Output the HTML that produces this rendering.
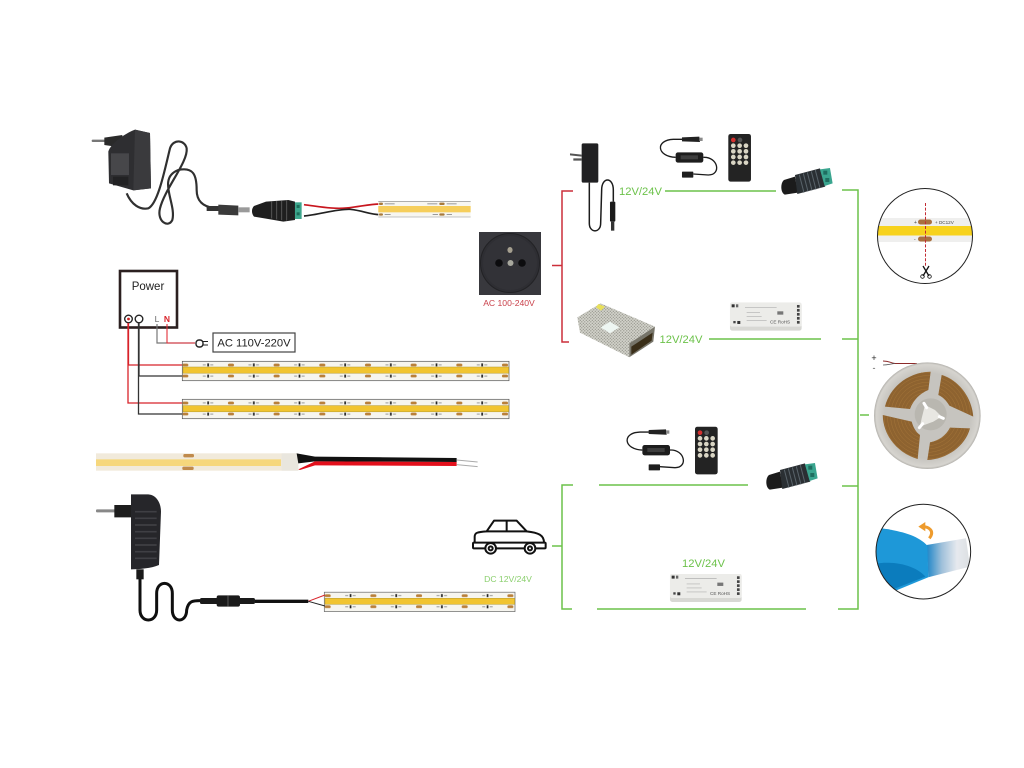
<!DOCTYPE html>
<html lang="en">
<head>
<meta charset="utf-8">
<title>LED strip wiring diagram</title>
<style>
html,body{margin:0;padding:0;background:#fff;width:1024px;height:768px;overflow:hidden}
svg{display:block;filter:blur(.35px)}
text{font-family:"Liberation Sans",sans-serif}
</style>
</head>
<body>
<svg width="1024" height="768" viewBox="0 0 1024 768" xmlns="http://www.w3.org/2000/svg">
<defs>
  <pattern id="tile" patternUnits="userSpaceOnUse" width="45.67" height="20">
    <rect x="2" y="2.6" width="6" height="2.8" rx="1.3" fill="#b9803a"/>
    <rect x="2" y="13.6" width="6" height="2.8" rx="1.3" fill="#b9803a"/>
    <rect x="27" y="2.4" width="1.7" height="3" fill="#222"/>
    <rect x="27" y="13.6" width="1.7" height="3" fill="#222"/>
    <rect x="22.5" y="3.4" width="3" height="1" fill="#999"/>
    <rect x="30" y="3.4" width="3" height="1" fill="#999"/>
    <rect x="22.5" y="14.6" width="3" height="1" fill="#999"/>
    <rect x="30" y="14.6" width="3" height="1" fill="#999"/>
  </pattern>
  <pattern id="p1" href="#tile" patternTransform="translate(180.3 361)"/>
  <pattern id="p2" href="#tile" patternTransform="translate(180.3 399)"/>
  <pattern id="p3" href="#tile" patternTransform="translate(322.7 591.7)"/>
  <pattern id="mesh" patternUnits="userSpaceOnUse" width="9" height="9">
    <rect width="9" height="9" fill="#d2d2ca"/>
    <circle cx="2.5" cy="2.5" r="1.8" fill="#85857c"/>
    <circle cx="7" cy="7" r="1.8" fill="#8c8c84"/>
  </pattern>
  <linearGradient id="tape" x1="0" x2="1" y1="0" y2="0">
    <stop offset="0" stop-color="#1e86c8"/>
    <stop offset=".35" stop-color="#9fc0da"/>
    <stop offset=".7" stop-color="#e6e9ee"/>
    <stop offset="1" stop-color="#dcdfe2"/>
  </linearGradient>
  <radialGradient id="reelG" cx=".5" cy=".5" r=".5">
    <stop offset=".8" stop-color="#c6c4bf"/>
    <stop offset=".96" stop-color="#d6d4cf"/>
    <stop offset="1" stop-color="#b3b1ac"/>
  </radialGradient>
  <clipPath id="c3"><circle cx="190" cy="1115" r="142"/></clipPath>
  <clipPath id="c1"><circle cx="925" cy="236" r="47.5"/></clipPath>
  <clipPath id="sect">
    <path d="M45,155C60,95 115,52 182,50L175,105C150,115 130,135 120,162Z"/>
    <path d="M215,60C265,75 305,125 310,185L238,152C230,138 218,125 205,120Z"/>
    <path d="M38,180L125,200C130,218 138,232 150,240L143,312C85,295 40,245 38,180Z"/>
    <path d="M300,220C285,275 230,312 172,315L180,262C205,258 228,242 240,218Z"/>
  </clipPath>

  <g id="ctrl">
    <path d="M617,112C560,110 555,60 610,58L640,58" fill="none" stroke="#1c1c1c" stroke-width="4"/>
    <path d="M700,112C745,110 755,165 715,165L670,162" fill="none" stroke="#1c1c1c" stroke-width="4"/>
    <rect x="617" y="97" width="83" height="31" rx="7" fill="#1d1d1d"/>
    <rect x="632" y="106" width="52" height="12" fill="#3e3e3e"/>
    <path d="M636,52L688,50L690,66L636,64Z" fill="#222"/>
    <rect x="688" y="53" width="10" height="10" fill="#8a8a8a"/>
    <rect x="636" y="155" width="34" height="18" rx="2" fill="#1e1e1e"/>
    <rect x="775" y="42" width="68" height="143" rx="7" fill="#232323"/>
    <circle cx="790" cy="60" r="7" fill="#d5302f"/>
    <circle cx="810" cy="60" r="7" fill="#555"/>
    <g fill="#d9d5c4">
      <circle cx="790" cy="77" r="7"/><circle cx="809" cy="77" r="7"/><circle cx="828" cy="77" r="7"/>
      <circle cx="790" cy="94" r="7"/><circle cx="809" cy="94" r="7"/><circle cx="828" cy="94" r="7"/>
      <circle cx="790" cy="111" r="7"/><circle cx="809" cy="111" r="7"/><circle cx="828" cy="111" r="7"/>
      <circle cx="790" cy="128" r="7"/><circle cx="809" cy="128" r="7"/><circle cx="828" cy="128" r="7"/>
    </g>
  </g>

  <g id="dcjack">
    <path d="M942,180L975,170L984,218L945,224C932,220 930,190 942,180Z" fill="#1b1b1b"/>
    <path d="M975,165L1050,145L1066,200L982,222Z" fill="#2a2f33"/>
    <g stroke="#59636a" stroke-width="3">
      <path d="M988,164L1002,218M1000,160L1014,214M1012,157L1026,211M1024,154L1038,208M1036,150L1050,204"/>
    </g>
    <path d="M1050,148L1080,144L1088,190L1064,198Z" fill="#3aa58f"/>
    <rect x="1060" y="152" width="12" height="12" fill="#1f6e60"/>
    <rect x="1066" y="174" width="12" height="12" fill="#1f6e60"/>
  </g>

  <g id="wbox">
    <rect x="780" y="548" width="215" height="84" rx="7" fill="#d8d8d4"/>
    <rect x="780" y="548" width="215" height="72" rx="6" fill="#ecece9"/>
    <rect x="785" y="553" width="9" height="9" fill="#333"/>
    <rect x="798" y="553" width="7" height="9" fill="#666"/>
    <rect x="790" y="603" width="7" height="7" fill="#444"/>
    <rect x="802" y="603" width="9" height="9" fill="#333"/>
    <g fill="#444">
      <rect x="981" y="555" width="8" height="8"/><rect x="981" y="567" width="8" height="8"/>
      <rect x="981" y="579" width="8" height="8"/><rect x="981" y="591" width="8" height="8"/><rect x="981" y="603" width="8" height="8"/>
    </g>
    <g stroke="#b0b0b0" stroke-width="2">
      <path d="M825,562H920M830,578H870M830,590H875M830,602H890"/>
    </g>
    <rect x="922" y="574" width="18" height="10" fill="#777"/>
    <text x="900" y="611" font-size="14" fill="#555">CE RoHS</text>
  </g>
</defs>

<rect width="1024" height="768" fill="#fff"/>

<!-- top-left adapter -->
<g transform="translate(85 125) scale(.3333)">
  <path d="M125,205C140,240 165,255 190,250C220,235 240,130 255,70C265,40 300,45 305,70C310,110 240,190 225,250C215,290 250,310 262,285C275,235 215,160 280,135C325,125 335,150 335,195C335,225 350,245 390,250" fill="none" stroke="#303030" stroke-width="6.5"/>
  <rect x="20" y="44" width="42" height="7" rx="3" fill="#777"/>
  <path d="M58,38L112,30L112,68L58,60Z" fill="#2a2a2a"/>
  <path d="M150,14L195,24L198,190L145,196L72,175L70,80C75,60 110,30 150,14Z" fill="#2e2e31"/>
  <path d="M150,14L195,24L198,190L145,196Z" fill="#3a3a3d"/>
  <rect x="78" y="85" width="54" height="65" fill="#47474a"/>
  <rect x="84" y="155" width="46" height="26" fill="#222224"/>
</g>
<g transform="translate(80 120) scale(.3333)">
  <rect x="380" y="258" width="36" height="15" fill="#333"/>
  <path d="M415,254L475,257V286L415,284Z" fill="#3a3a3a"/>
  <rect x="475" y="262" width="34" height="15" fill="#9a9a9a"/>
  <path d="M522,258L558,245L625,240L645,245L645,300L610,305L558,296L522,290C514,280 514,266 522,258Z" fill="#1f1f1f"/>
  <g stroke="#555" stroke-width="3"><path d="M575,245V295M590,243V298M605,241V300M620,240V302"/></g>
  <rect x="645" y="247" width="20" height="50" fill="#3da58c"/>
  <rect x="650" y="255" width="9" height="9" fill="#1d6e5b"/>
  <rect x="650" y="277" width="9" height="9" fill="#1d6e5b"/>
  <path d="M672,254C720,260 760,268 800,264C840,260 870,252 900,252" fill="none" stroke="#c8161e" stroke-width="5"/>
  <path d="M672,288C720,284 770,266 810,268C850,272 870,284 900,284" fill="none" stroke="#222" stroke-width="5"/>
  <rect x="895" y="243" width="277" height="49" fill="#f7f6f1"/>
  <rect x="895" y="243" width="277" height="2" fill="#888"/>
  <rect x="895" y="290" width="277" height="2" fill="#aaa"/>
  <rect x="895" y="258" width="277" height="19" fill="#f6ce5b"/>
  <g fill="#a87a3a">
    <rect x="897" y="248" width="12" height="7" rx="3"/><rect x="1078" y="248" width="16" height="7" rx="3"/>
    <rect x="897" y="280" width="12" height="7" rx="3"/><rect x="1078" y="280" width="16" height="7" rx="3"/>
  </g>
  <g fill="#999">
    <rect x="914" y="250" width="30" height="3"/><rect x="1042" y="250" width="30" height="3"/><rect x="1100" y="250" width="30" height="3"/>
    <rect x="914" y="282" width="18" height="3"/><rect x="1058" y="282" width="16" height="3"/><rect x="1100" y="282" width="16" height="3"/>
  </g>
</g>

<!-- power box -->
<rect x="120" y="271" width="57" height="56.5" fill="#fff" stroke="#2b2020" stroke-width="2.6"/>
<text x="148" y="290" font-size="11.5" text-anchor="middle" fill="#222">Power</text>
<circle cx="128.5" cy="319" r="3.8" fill="#fff" stroke="#222" stroke-width="1.4"/>
<circle cx="128.5" cy="319" r="1.4" fill="#c22"/>
<circle cx="139" cy="319" r="3.8" fill="#fff" stroke="#222" stroke-width="1.4"/>
<text x="157" y="322" font-size="8.5" text-anchor="middle" fill="#666">L</text>
<text x="167" y="322" font-size="8.5" font-weight="bold" text-anchor="middle" fill="#d8232a">N</text>
<path d="M157,324V343H195" fill="none" stroke="#777" stroke-width="1.2"/>
<path d="M167,324V343H195" fill="none" stroke="#e2303a" stroke-width="1.1"/>
<rect x="196" y="340" width="7" height="7" rx="3" fill="#fff" stroke="#222" stroke-width="1.4"/>
<path d="M203,341.5H208M203,345H208" stroke="#222" stroke-width="1"/>
<rect x="213" y="333" width="82" height="19" fill="#fff" stroke="#444" stroke-width="1.2"/>
<text x="254" y="346.6" font-size="11.2" text-anchor="middle" fill="#222">AC 110V-220V</text>
<path d="M128.5,323V365H182" fill="none" stroke="#d8232a" stroke-width="1.3"/>
<path d="M128,323V403H182" fill="none" stroke="#d8232a" stroke-width="1.3"/>
<path d="M139,323V376H182" fill="none" stroke="#333" stroke-width="1.3"/>
<path d="M138.5,323V414H182" fill="none" stroke="#333" stroke-width="1.3"/>

<!-- strips -->
<g>
  <rect x="182.3" y="361.3" width="326.7" height="19.4" fill="#f6f5ef" stroke="#555" stroke-width=".7"/>
  <rect x="183" y="367" width="325.6" height="6.2" fill="#f1c430" stroke="#b3992c" stroke-width=".5"/>
  <rect x="182.6" y="361.6" width="326" height="18.8" fill="url(#p1)"/>
  <rect x="182.3" y="399.3" width="326.7" height="19.4" fill="#f6f5ef" stroke="#555" stroke-width=".7"/>
  <rect x="183" y="405.6" width="325.6" height="6.2" fill="#f1c430" stroke="#b3992c" stroke-width=".5"/>
  <rect x="182.6" y="399.6" width="326" height="18.8" fill="url(#p2)"/>
  <rect x="324.3" y="592.2" width="190.7" height="19.4" fill="#f6f5ef" stroke="#666" stroke-width=".7"/>
  <rect x="325" y="598.3" width="189.6" height="6" fill="#f1c430" stroke="#b3992c" stroke-width=".5"/>
  <rect x="324.6" y="592.5" width="190" height="18.8" fill="url(#p3)"/>
</g>

<!-- silicone strip + wires -->
<g transform="translate(85 440) scale(.3333)">
  <rect x="33" y="40" width="607" height="52" fill="#f1eadb"/>
  <rect x="33" y="58" width="555" height="20" fill="#f6d77c"/>
  <rect x="590" y="40" width="50" height="52" fill="#e9e6de"/>
  <rect x="295" y="42" width="32" height="10" rx="4" fill="#c08a4c"/>
  <rect x="292" y="80" width="34" height="10" rx="4" fill="#c08a4c"/>
  <path d="M635,40L690,50L1115,54V66L690,64L640,70Z" fill="#111"/>
  <path d="M640,88L690,64L1115,66V78L690,76L645,90Z" fill="#e3101c"/>
  <path d="M1115,60L1178,66M1115,74L1178,80" stroke="#aaa" stroke-width="3"/>
</g>

<!-- bottom-left adapter -->
<g transform="translate(85 440) scale(.3333)">
  <path d="M165,390V510C165,550 215,550 215,510V460C215,420 262,420 262,460V510C262,550 305,550 305,510C310,482 325,482 345,482" fill="none" stroke="#0f0f0f" stroke-width="9"/>
  <rect x="33" y="208" width="58" height="9" rx="3" fill="#888"/>
  <path d="M88,195H138V232H88Z" fill="#1d1d1d"/>
  <path d="M138,163H190C215,165 228,190 228,215L222,375C200,385 160,388 138,388Z" fill="#26262a"/>
  <g stroke="#3f3f44" stroke-width="5"><path d="M150,215H215M150,235H215M150,255H215M150,275H215M150,295H215M150,315H215M150,335H215M150,355H215"/></g>
  <rect x="154" y="388" width="22" height="30" fill="#1a1a1a"/>
  <rect x="345" y="474" width="165" height="18" rx="5" fill="#1a1a1a"/>
  <rect x="395" y="466" width="70" height="34" rx="6" fill="#1a1a1a"/>
  <rect x="428" y="466" width="2" height="34" fill="#777"/>
  <rect x="510" y="479" width="160" height="10" fill="#111"/>
  <path d="M670,484L720,465" stroke="#d8232a" stroke-width="3"/>
  <path d="M670,484L720,498" stroke="#222" stroke-width="3"/>
</g>

<!-- socket -->
<rect x="479" y="232" width="62" height="63" fill="#38383d"/>
<circle cx="510" cy="263" r="29.5" fill="#2e2e33" stroke="#222225" stroke-width="1"/>
<circle cx="510" cy="263" r="27" fill="#323237"/>
<ellipse cx="510" cy="250" rx="2.6" ry="3" fill="#a59f8f"/>
<ellipse cx="510.5" cy="263" rx="3" ry="3" fill="#a8a89e"/>
<circle cx="499" cy="263" r="3.8" fill="#0c0c0e"/>
<circle cx="522" cy="263" r="3.8" fill="#0c0c0e"/>
<text x="509" y="306" font-size="8.6" text-anchor="middle" fill="#c9404a">AC 100-240V</text>

<!-- red bracket -->
<path d="M573,191H562V342H569M552,265.5H562" fill="none" stroke="#cc2f3a" stroke-width="1.5"/>

<!-- US adapter -->
<g transform="translate(470 120) scale(.3333)">
  <path d="M358,188L358,310C358,340 392,340 392,310L395,210C395,170 430,170 430,210V245" fill="none" stroke="#1c1c1c" stroke-width="4.5"/>
  <path d="M300,100L335,104V110L300,106ZM310,115L335,115V122L310,122Z" fill="#555"/>
  <rect x="335" y="70" width="50" height="118" rx="5" fill="#202022"/>
  <rect x="420" y="245" width="16" height="60" rx="3" fill="#1a1a1a"/>
  <rect x="423" y="305" width="10" height="27" fill="#333"/>
</g>

<!-- controllers -->
<use href="#ctrl" transform="translate(470 120) scale(.3333)"/>
<use href="#ctrl" transform="translate(436.7 412.7) scale(.3333)"/>
<use href="#dcjack" transform="translate(470 120) scale(.3333)"/>
<use href="#dcjack" transform="translate(455 415) scale(.3333)"/>
<use href="#wbox" transform="translate(470 120) scale(.3333)"/>
<use href="#wbox" transform="translate(410 391.3) scale(.3333)"/>

<!-- power supply -->
<g transform="translate(470 120) scale(.3333)">
  <path d="M322,592L392,550L555,620L478,670Z" fill="url(#mesh)"/>
  <path d="M322,592L478,670V712L330,638Z" fill="url(#mesh)"/>
  <path d="M478,670L555,620L550,665L478,712Z" fill="#77756a"/>
  <path d="M484,680L548,638L545,662L484,704Z" fill="#3a2e18"/>
  <path d="M385,552L405,560L393,572L378,562Z" fill="#e8e05a"/>
  <path d="M392,622L420,605L448,622L420,640Z" fill="#eef6f2"/>
</g>

<!-- green wiring -->
<g fill="none" stroke="#6cc24a" stroke-width="1.5">
  <path d="M665,191H776"/>
  <path d="M842,190H858V609H838"/>
  <path d="M709,339H821"/>
  <path d="M842,339H858"/>
  <path d="M842,486H858"/>
  <path d="M860,415H869"/>
  <path d="M573,485H562V609H572"/>
  <path d="M552,546H562"/>
  <path d="M599,485H748"/>
  <path d="M597,609H806"/>
</g>
<g fill="#6cc24a" font-size="11.2" text-anchor="middle">
  <text x="640.5" y="195">12V/24V</text>
  <text x="681" y="343">12V/24V</text>
  <text x="703.5" y="567">12V/24V</text>
</g>
<text x="508" y="582" font-size="8.6" text-anchor="middle" fill="#8bcf6e">DC 12V/24V</text>

<!-- car -->
<g transform="translate(470 420) scale(.3333)" fill="none" stroke="#111" stroke-width="6" stroke-linejoin="round">
  <path d="M14,368V350C14,338 22,336 50,334L72,302H140L170,334C205,338 222,345 222,368"/>
  <path d="M50,334H170M110,302V334"/>
  <rect x="9" y="368" width="218" height="17" rx="3"/>
  <circle cx="62" cy="385" r="16" fill="#fff"/><circle cx="62" cy="385" r="6"/>
  <circle cx="180" cy="385" r="16" fill="#fff"/><circle cx="180" cy="385" r="6"/>
</g>

<!-- cut circle -->
<g clip-path="url(#c1)">
  <rect x="875" y="218" width="100" height="24" fill="#efefee"/>
  <rect x="875" y="226" width="100" height="9.5" fill="#f7d21c"/>
</g>
<circle cx="925" cy="236" r="47.5" fill="none" stroke="#222" stroke-width="1"/>
<rect x="918" y="219.5" width="14" height="5" rx="2.5" fill="#a9703f"/>
<rect x="918" y="236.5" width="14" height="5" rx="2.5" fill="#a9703f"/>
<text x="935" y="224" font-size="4.6" fill="#444">+ DC12V</text>
<text x="914" y="224" font-size="5" fill="#444">+</text>
<text x="914" y="240.5" font-size="5" fill="#444">-</text>
<path d="M925.5,203V267" stroke="#c22b33" stroke-width="1" stroke-dasharray="3 1.6" fill="none"/>
<g fill="none" stroke="#111">
  <path d="M923,266L929,276M929,266L923,276" stroke-width="1.3"/>
  <circle cx="922.5" cy="276.5" r="1.8" stroke-width=".8"/>
  <circle cx="929.5" cy="276.5" r="1.8" stroke-width=".8"/>
</g>

<!-- reel -->
<text x="874" y="361" font-size="9" text-anchor="middle" fill="#222">+</text>
<text x="874" y="371" font-size="9" text-anchor="middle" fill="#555">-</text>
<path d="M883,361C890,361 890,363 895,363.5H917" fill="none" stroke="#8c2a2a" stroke-width="1"/>
<path d="M883,365C888,365 890,364 895,363.5" fill="none" stroke="#555" stroke-width=".8"/>
<g transform="translate(870 355) scale(.3333)">
  <circle cx="172" cy="182" r="160" fill="url(#reelG)"/>
  <g clip-path="url(#sect)">
    <rect x="20" y="30" width="310" height="300" fill="#8e6330"/>
    <g fill="none" stroke="#a5753a" stroke-width="1.5">
      <circle cx="172" cy="182" r="60"/><circle cx="172" cy="182" r="70"/><circle cx="172" cy="182" r="80"/>
      <circle cx="172" cy="182" r="90"/><circle cx="172" cy="182" r="100"/><circle cx="172" cy="182" r="110"/>
      <circle cx="172" cy="182" r="120"/><circle cx="172" cy="182" r="130"/>
    </g>
  </g>
  <circle cx="182" cy="178" r="48" fill="#b9b7b0"/>
  <path d="M165,150L195,165L215,185L190,200L150,215L155,190Z" fill="#e8e7e2"/>
  <path d="M162,145L170,158M208,185L220,190M148,218L158,206" stroke="#fff" stroke-width="9" stroke-linecap="round"/>
</g>

<!-- tape circle -->
<g transform="translate(860 180) scale(.3333)">
  <g clip-path="url(#c3)">
    <path d="M200,1095L318,1075L330,1160L205,1192Z" fill="url(#tape)"/>
    <path d="M40,1042C110,1050 170,1062 202,1097L205,1192L100,1235L40,1230Z" fill="#1e98d8"/>
    <path d="M40,1152C110,1140 170,1160 196,1190L100,1228L40,1230Z" fill="#0b7cbd"/>
  </g>
  <circle cx="190" cy="1115" r="142" fill="none" stroke="#222" stroke-width="3"/>
  <path d="M208,1075C226,1052 205,1040 188,1040" fill="none" stroke="#ee9b2d" stroke-width="9"/>
  <path d="M175,1040L196,1026L196,1054Z" fill="#ee9b2d"/>
</g>
</svg>
</body>
</html>
